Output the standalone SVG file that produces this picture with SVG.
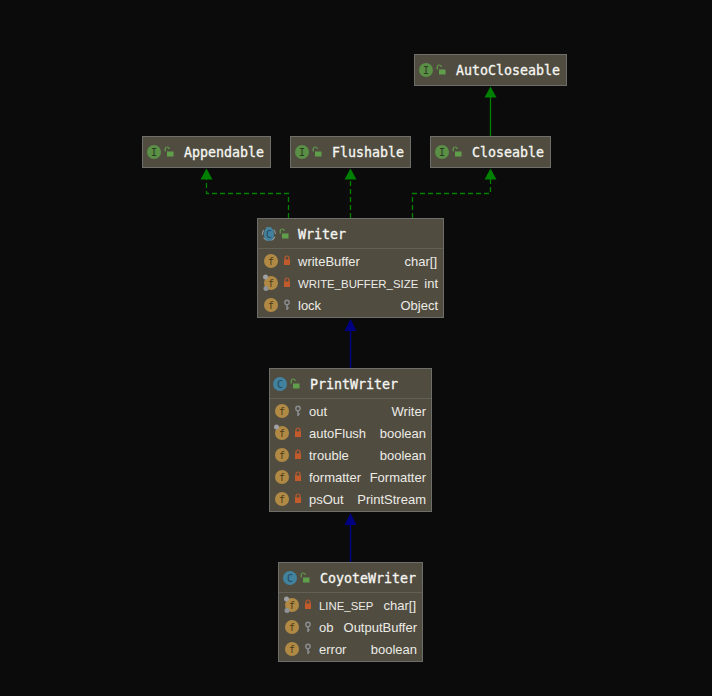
<svg xmlns="http://www.w3.org/2000/svg" width="712" height="696" viewBox="0 0 712 696">
<style>
.box{fill:#504c40;stroke:#6e6e6a;stroke-width:1}
.div{stroke:#625f55;stroke-width:1}
.t{font:400 13.300px "DejaVu Sans Mono","Liberation Mono",monospace;fill:#f6f6f2;stroke:#f6f6f2;stroke-width:.3}
.f{font:13px "Liberation Sans","Noto Sans",sans-serif;fill:#ecebe6}
.u{font-size:11.400px}
.e{text-anchor:end}
.g{fill:none;stroke:#008000;stroke-width:1.3}
.d{stroke-dasharray:5 3}
.b{fill:none;stroke:#000080;stroke-width:1.5}
.ic{font:400 10px "DejaVu Sans Mono",monospace;text-anchor:middle}
</style>
<defs>
<g id="iI"><circle r="7" fill="#5a8f46"/><text class="ic" y="3.500" fill="#2c3a22" font-weight="700">I</text></g>
<g id="iC"><circle r="7" fill="#41829f"/><text class="ic" y="3.500" fill="#27465a">C</text></g>
<g id="iCa"><circle r="6.500" fill="none" stroke="#8b979e" stroke-width="1.200" stroke-dasharray="5 3" stroke-dashoffset="-3"/><ellipse rx="5" ry="7" fill="#41829f"/><text class="ic" y="3.500" fill="#27465a">C</text></g>
<g id="iF"><circle r="7" fill="#b08a45"/><text class="ic" y="3.500" fill="#4d3a18">f</text></g>
<g id="st"><circle cx="-5.500" cy="-6" r="2.500" fill="#a0a0a4"/><circle cx="-5" cy="5.500" r="2.500" fill="#8f9296"/></g>
<g id="open"><path d="M-3.800-.5v-2.500a2 2 0 0 1 4 0" fill="none" stroke="#5f9e4a" stroke-width="1.200"/><rect x="-2" y="-.5" width="6.500" height="5" fill="#5f9e4a"/></g>
<g id="lock"><path d="M-2-1v-2a2 2 0 0 1 4 0v2" fill="none" stroke="#c25a2b" stroke-width="1.200"/><rect x="-3" y="-1.500" width="6" height="5.500" fill="#c25a2b"/></g>
<g id="key"><circle cy="-2.500" r="2.200" fill="none" stroke="#8b8d90" stroke-width="1.400"/><path d="M0 0v5M0 3h1.800" stroke="#8b8d90" stroke-width="1.600" fill="none"/></g>
</defs>
<rect width="712" height="696" fill="#0b0b0b"/>
<g id="connectors">
<path class="g" d="M490.500 136V88"/><path d="M490.500 86.500L496.500 97.500H484.500Z" fill="#008000"/>
<path class="g d" d="M288.500 218V193.500H206.500V178"/><path d="M206.500 168.500L212.500 179.500H200.500Z" fill="#008000"/>
<path class="g d" d="M350.500 218V178"/><path d="M350.500 168.500L356.500 179.500H344.500Z" fill="#008000"/>
<path class="g d" d="M412.500 218V193.500H490.500V178"/><path d="M490.500 168.500L496.500 179.500H484.500Z" fill="#008000"/>
<path class="b" d="M350.500 368V330"/><path d="M350.500 319L356.500 331H344.500Z" fill="#000080"/>
<path class="b" d="M350.500 562V524"/><path d="M350.500 513L356.500 525H344.500Z" fill="#000080"/>
</g>
<g id="AutoCloseable"><rect class="box" x="414.500" y="54.500" width="152" height="31"/><use href="#iI" x="426" y="70"/><use href="#open" x="441" y="70"/><text class="t" x="456" y="75">AutoCloseable</text></g>
<g id="Appendable"><rect class="box" x="142.500" y="136.500" width="128" height="31"/><use href="#iI" x="154" y="152"/><use href="#open" x="169" y="152"/><text class="t" x="184" y="157">Appendable</text></g>
<g id="Flushable"><rect class="box" x="290.500" y="136.500" width="120" height="31"/><use href="#iI" x="302" y="152"/><use href="#open" x="317" y="152"/><text class="t" x="332" y="157">Flushable</text></g>
<g id="Closeable"><rect class="box" x="430.500" y="136.500" width="120" height="31"/><use href="#iI" x="442" y="152"/><use href="#open" x="457" y="152"/><text class="t" x="472" y="157">Closeable</text></g>
<g id="Writer"><rect class="box" x="257.500" y="218.500" width="186" height="99"/><line class="div" x1="258" y1="248.500" x2="443" y2="248.500"/>
<use href="#iCa" x="269" y="234"/><use href="#open" x="284" y="234"/><text class="t" x="298" y="239">Writer</text>
<use href="#iF" x="271" y="261"/><use href="#lock" x="287" y="261"/><text class="f" x="298" y="266">writeBuffer</text><text class="f e" x="437" y="266">char[]</text>
<use href="#iF" x="271" y="283"/><use href="#st" x="271" y="283"/><use href="#lock" x="287" y="283"/><text class="f u" x="298" y="288">WRITE_BUFFER_SIZE</text><text class="f e" x="438" y="288">int</text>
<use href="#iF" x="271" y="305"/><use href="#key" x="287" y="305"/><text class="f" x="298" y="310">lock</text><text class="f e" x="438" y="310">Object</text></g>
<g id="PrintWriter"><rect class="box" x="269.500" y="368.500" width="162" height="143"/><line class="div" x1="270" y1="398.500" x2="431" y2="398.500"/>
<use href="#iC" x="280" y="384"/><use href="#open" x="295" y="384"/><text class="t" x="310" y="389">PrintWriter</text>
<use href="#iF" x="282" y="411"/><use href="#key" x="298" y="411"/><text class="f" x="309" y="416">out</text><text class="f e" x="426" y="416">Writer</text>
<use href="#iF" x="282" y="433"/><circle cx="276.500" cy="427" r="2.500" fill="#a0a0a4"/><use href="#lock" x="298" y="433"/><text class="f" x="309" y="438">autoFlush</text><text class="f e" x="426" y="438">boolean</text>
<use href="#iF" x="282" y="455"/><use href="#lock" x="298" y="455"/><text class="f" x="309" y="460">trouble</text><text class="f e" x="426" y="460">boolean</text>
<use href="#iF" x="282" y="477"/><use href="#lock" x="298" y="477"/><text class="f" x="309" y="482">formatter</text><text class="f e" x="426" y="482">Formatter</text>
<use href="#iF" x="282" y="499"/><use href="#lock" x="298" y="499"/><text class="f" x="309" y="504">psOut</text><text class="f e" x="426" y="504">PrintStream</text></g>
<g id="CoyoteWriter"><rect class="box" x="278.500" y="562.500" width="144" height="99"/><line class="div" x1="279" y1="592.500" x2="422" y2="592.500"/>
<use href="#iC" x="290" y="578"/><use href="#open" x="305" y="578"/><text class="t" x="320" y="583">CoyoteWriter</text>
<use href="#iF" x="292" y="605"/><use href="#st" x="292" y="605"/><use href="#lock" x="308" y="605"/><text class="f u" x="319" y="610">LINE_SEP</text><text class="f e" x="416" y="610">char[]</text>
<use href="#iF" x="292" y="627"/><use href="#key" x="308" y="627"/><text class="f" x="319" y="632">ob</text><text class="f e" x="417" y="632">OutputBuffer</text>
<use href="#iF" x="292" y="649"/><use href="#key" x="308" y="649"/><text class="f" x="319" y="654">error</text><text class="f e" x="417" y="654">boolean</text></g>
</svg>
